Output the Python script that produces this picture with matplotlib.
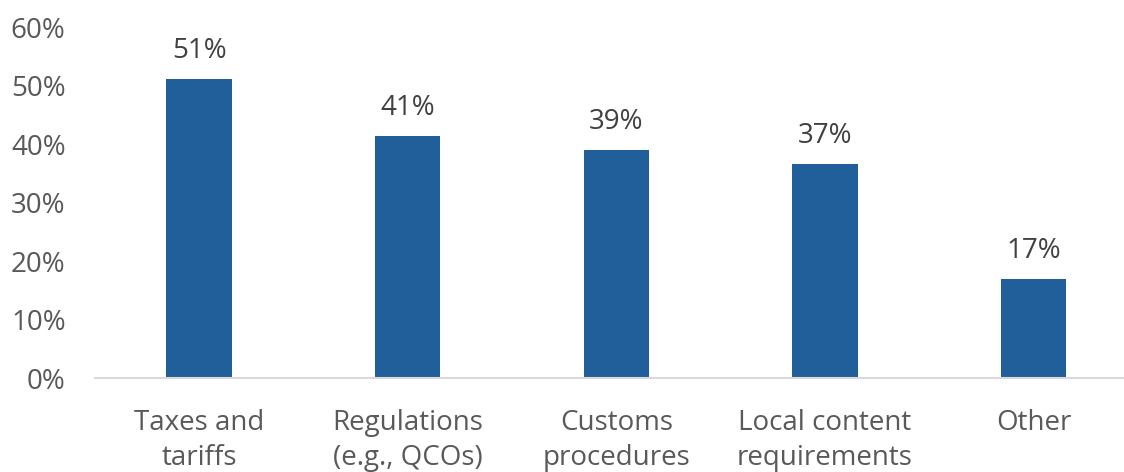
import matplotlib.pyplot as plt
from matplotlib.ticker import PercentFormatter

categories = ["Taxes and\ntariffs", "Regulations\n(e.g., QCOs)", "Customs\nprocedures",
              "Local content\nrequirements", "Other"]
shares = [0.512, 0.414, 0.390, 0.366, 0.169]
yticks = [0, 0.1, 0.2, 0.3, 0.4, 0.5, 0.6]

plt.rcParams['font.family'] = ['Open Sans', 'DejaVu Sans']

fig = plt.figure(figsize=(11.24, 4.72), dpi=100)
ax = fig.add_axes([0.0843, 0.199, 0.928, 0.7436])

x = range(len(categories))
bars = ax.bar(x, shares, width=0.314, color="#215F9A", zorder=2)

for rect, v in zip(bars, shares):
    ax.annotate(f"{v * 100:.0f}%", (rect.get_x() + rect.get_width() / 2, v),
                xytext=(0, 10), textcoords="offset points",
                ha="center", va="bottom", fontsize=20, color="#404040")

ax.set_xlim(-0.5, len(categories) - 0.5)
ax.set_ylim(0, 0.6)
ax.set_yticks(yticks)
ax.yaxis.set_major_formatter(PercentFormatter(1.0, decimals=0))
ax.set_xticks(list(x))
ax.set_xticklabels(categories, linespacing=1.35)

ax.tick_params(axis="y", length=0, pad=21, labelsize=20, labelcolor="#595959")
ax.tick_params(axis="x", length=0, pad=22, labelsize=20, labelcolor="#595959")

for side in ["left", "right", "top"]:
    ax.spines[side].set_visible(False)
ax.spines["bottom"].set_color("#d9d9d9")
ax.spines["bottom"].set_linewidth(1.5)

fig.savefig("out.png", dpi=100)
